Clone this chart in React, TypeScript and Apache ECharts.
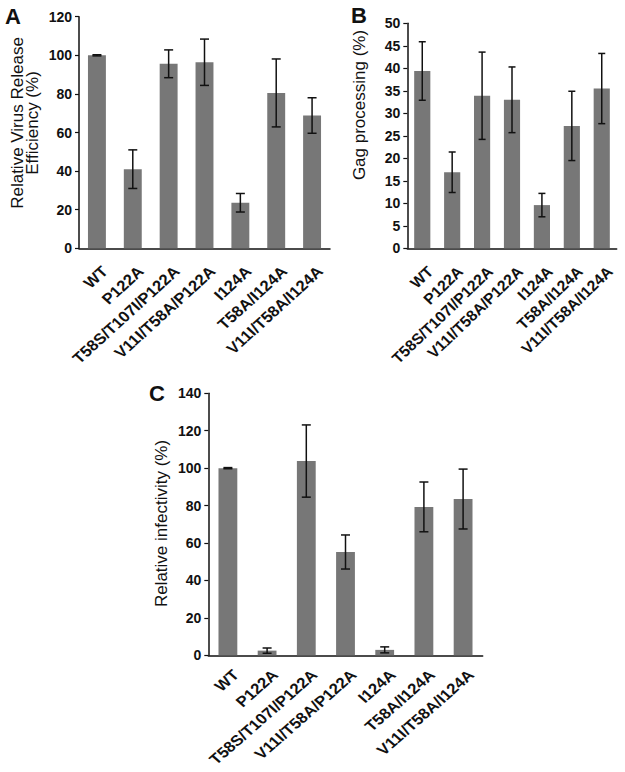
import React, { useEffect, useRef } from "react";
import * as echarts from "echarts";

const categories = [
  "WT",
  "P122A",
  "T58S/T107I/P122A",
  "V11I/T58A/P122A",
  "I124A",
  "T58A/I124A",
  "V11I/T58A/I124A",
];
const releaseValues = [100, 41, 95.6, 96.4, 23.6, 80.5, 68.8];
const releaseErrors = [0.3, 10, 7.2, 12, 4.8, 17.6, 9.2];
const gagValues = [39.4, 16.9, 33.9, 33.0, 9.6, 27.2, 35.5];
const gagErrors = [6.5, 4.5, 9.7, 7.3, 2.6, 7.7, 7.8];
const infectValues = [100, 2.5, 103.8, 55.2, 2.9, 79.3, 83.5];
const infectErrors = [0.3, 1.4, 19.3, 9.1, 1.6, 13.3, 16];

const titleA1 = "Relative Virus Release";
const titleA2 = "Efficiency (%)";
const titleB = "Gag processing (%)";
const titleC = "Relative infectivity (%)";

const FONT = "'Liberation Sans', Arial, sans-serif";
const BAR = "#777777";
const INK = "#111111";

function errData(vals: number[], errs: number[]) {
  return vals.map((v, i) => [i, v - errs[i], v + errs[i]]);
}

function errSeries(idx: number, vals: number[], errs: number[], capW: number) {
  return {
    type: "custom",
    xAxisIndex: idx,
    yAxisIndex: idx,
    z: 5,
    data: errData(vals, errs),
    renderItem: (params: any, api: any) => {
      const x = api.value(0);
      const lo = api.coord([x, api.value(1)]);
      const hi = api.coord([x, api.value(2)]);
      const h = capW / 2;
      const style = { stroke: INK, lineWidth: 1.5 };
      return {
        type: "group",
        children: [
          { type: "line", shape: { x1: lo[0], y1: lo[1], x2: hi[0], y2: hi[1] }, style },
          { type: "line", shape: { x1: lo[0] - h, y1: lo[1], x2: lo[0] + h, y2: lo[1] }, style },
          { type: "line", shape: { x1: hi[0] - h, y1: hi[1], x2: hi[0] + h, y2: hi[1] }, style },
        ],
      };
    },
  };
}

function xAx(idx: number) {
  return {
    type: "category",
    gridIndex: idx,
    data: categories,
    axisLine: { lineStyle: { color: INK, width: 1.5 } },
    axisTick: { show: false },
    axisLabel: { show: false },
  };
}

function yAx(idx: number, max: number, interval: number) {
  return {
    type: "value",
    gridIndex: idx,
    min: 0,
    max,
    interval,
    splitLine: { show: false },
    axisLine: { show: true, lineStyle: { color: INK, width: 1.5 } },
    axisTick: { show: true, length: 4, lineStyle: { color: INK, width: 1.2 } },
    axisLabel: {
      margin: 7,
      color: INK,
      fontFamily: FONT,
      fontWeight: "bold",
      fontSize: 14,
    },
  };
}

function vText(text: string, x: number, y: number, size: number) {
  return {
    type: "text",
    x,
    y,
    rotation: Math.PI / 2,
    style: {
      text,
      fill: INK,
      font: `${size}px ${FONT}`,
      textAlign: "center",
      textVerticalAlign: "middle",
    },
  };
}

function letter(text: string, x: number, y: number) {
  return {
    type: "text",
    x,
    y,
    style: {
      text,
      fill: INK,
      font: `bold 22px ${FONT}`,
      textAlign: "left",
      textVerticalAlign: "middle",
    },
  };
}

function catLabels(chart: any, gridIndex: number, sx: number, dy: number, size: number) {
  return categories.map((c, i) => {
    const p = chart.convertToPixel({ gridIndex }, [i, 0]);
    return {
      type: "group",
      x: p[0] + 8,
      y: p[1] + dy,
      scaleX: sx,
      children: [
        {
          type: "text",
          rotation: Math.PI / 4,
          style: {
            text: c,
            fill: INK,
            font: `bold ${size}px ${FONT}`,
            textAlign: "right",
            textVerticalAlign: "middle",
          },
        },
      ],
    };
  });
}

export default function App() {
  const ref = useRef<HTMLDivElement>(null);
  useEffect(() => {
    if (!ref.current) return;
    const chart = echarts.init(ref.current, null, { renderer: "svg" });
    chart.setOption({
      animation: false,
      backgroundColor: "#ffffff",
      grid: [
        { left: 79, top: 16.7, width: 251, height: 231.6, outerBoundsMode: "none" },
        { left: 407.3, top: 23.3, width: 209.4, height: 225, outerBoundsMode: "none" },
        { left: 208.3, top: 393.3, width: 274.4, height: 262, outerBoundsMode: "none" },
      ],
      xAxis: [xAx(0), xAx(1), xAx(2)],
      yAxis: [yAx(0, 120, 20), yAx(1, 50, 5), yAx(2, 140, 20)],
      series: [
        {
          type: "bar",
          xAxisIndex: 0,
          yAxisIndex: 0,
          data: releaseValues,
          barWidth: "50%",
          itemStyle: { color: BAR },
        },
        errSeries(0, releaseValues, releaseErrors, 9),
        {
          type: "bar",
          xAxisIndex: 1,
          yAxisIndex: 1,
          data: gagValues,
          barWidth: "54%",
          itemStyle: { color: BAR },
        },
        errSeries(1, gagValues, gagErrors, 7),
        {
          type: "bar",
          xAxisIndex: 2,
          yAxisIndex: 2,
          data: infectValues,
          barWidth: "48%",
          itemStyle: { color: BAR },
        },
        errSeries(2, infectValues, infectErrors, 9),
      ],
    });
    chart.setOption({
      graphic: [
        vText(titleA1, 17, 123, 17),
        vText(titleA2, 32, 123, 17),
        vText(titleB, 359.5, 105, 17),
        vText(titleC, 161.5, 523.5, 17),
        letter("A", 5, 16.5),
        letter("B", 351, 15),
        letter("C", 149, 393),
        ...catLabels(chart, 0, 1.1, 20.5, 15.2),
        ...catLabels(chart, 1, 1.04, 20.5, 15.2),
        ...catLabels(chart, 2, 1.14, 17, 14.8),
      ],
    });
    return () => chart.dispose();
  }, []);
  return (
    <div
      ref={ref}
      style={{ position: "fixed", left: 0, top: 0, width: 625, height: 772 }}
    />
  );
}
